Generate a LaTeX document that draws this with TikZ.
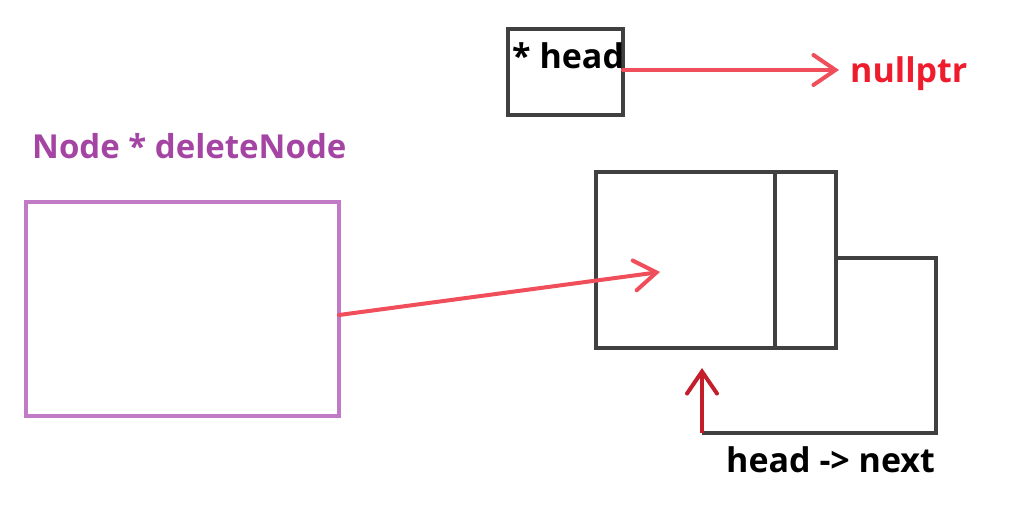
\documentclass[tikz,border=0pt]{standalone}
\usepackage{fontspec}
\setmainfont{Open Sans}
\usepackage{xcolor}
\usepackage{tikz}
\usetikzlibrary{positioning}
\usetikzlibrary{arrows.meta}

\definecolor{boxgray}{HTML}{404040}
\definecolor{ptrred}{HTML}{F04E5A}
\definecolor{nullred}{HTML}{EE1C2C}
\definecolor{labelpurple}{HTML}{A445A4}
\definecolor{boxpurple}{HTML}{C07AC6}
\definecolor{nextred}{HTML}{C41E2A}

\tikzset{
	cell/.style={draw=boxgray, line width=4pt, inner sep=0pt, outer sep=0pt},
	ptr/.style={draw=ptrred, line width=4pt, line cap=round, -{Straight Barb[length=22pt,width=30pt,line cap=round]}},
	label/.style={font=\fontsize{34}{40}\selectfont\bfseries, inner sep=0pt}
}

\begin{document}
\begin{tikzpicture}[x=1pt,y=-1pt]
	\useasboundingbox (0,0) rectangle (1009,519);

	\node[cell, minimum width=115pt, minimum height=86pt] (headbox) at (565.5,72) {};
	\node[label, anchor=base west] (headtxt) at (512,68) {* head};
	\node[label, text=nullred, anchor=base west, inner sep=11pt] (nullptr) at (839,82) {nullptr};

	\draw[ptr] (headbox.east |- 0,70) -- (nullptr.west |- 0,70);

	\node[label, font=\fontsize{33}{40}\selectfont\bfseries, text=labelpurple, anchor=base west] (deltxt) at (32,158) {Node * deleteNode};
	\node[cell, draw=boxpurple, minimum width=313pt, minimum height=214pt] (deletebox) at (182.5,309) {};

	\node[cell, minimum width=179pt, minimum height=176pt] (datacell) at (685.5,260) {};
	\node[cell, minimum width=61pt, minimum height=176pt] (nextcell) [right = 0pt of datacell] {};

	\coordinate (target) at (660,272);
	\draw[ptr] (deletebox.east |- 0,315) -- (target);

	\coordinate (loopend) at (702,433);
	\draw[boxgray, line width=4pt, line join=miter] (nextcell.east |- 0,258) -- ++(100,0) |- (loopend);
	\draw[ptr, draw=nextred, line cap=butt] (loopend) -- ++(0,-65);

	\node[label, anchor=base west] (nexttxt) at (726,472) {head -> next};
\end{tikzpicture}
\end{document}
